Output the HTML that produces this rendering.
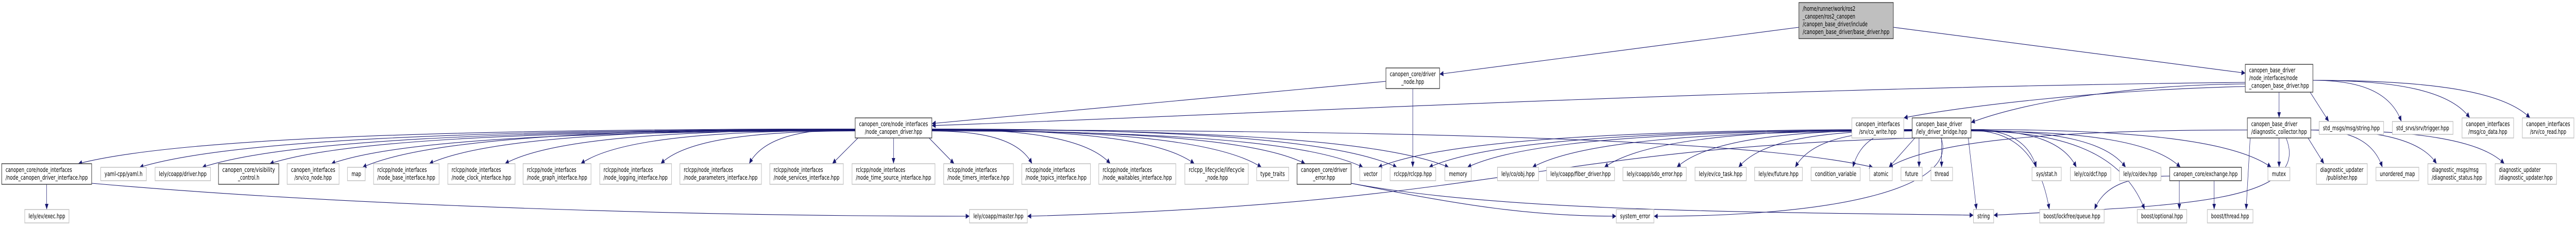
<!DOCTYPE html>
<html><head><meta charset="utf-8">
<style>
html,body{margin:0;padding:0;background:#fff;width:100%;height:100%;overflow:hidden;}
svg{display:block;width:100vw;height:100vh;}
text{font-family:"DejaVu Sans","Liberation Sans",sans-serif;font-size:12.5px;fill:#000;}
.g{fill:#fff;stroke:#c0c0c0;stroke-width:1.5;}
.k{fill:#fff;stroke:#404040;stroke-width:1.5;}
.f{fill:#bfbfbf;stroke:#404040;stroke-width:1.5;}
.e{fill:none;stroke:#191970;stroke-width:1.1;}
</style></head>
<body>
<svg id="s" viewBox="0 0 7392 439" preserveAspectRatio="none" xmlns="http://www.w3.org/2000/svg">
<defs><marker id="ar" markerUnits="userSpaceOnUse" markerWidth="12" markerHeight="10" refX="11" refY="5" orient="auto"><path d="M0,0 L11,5 L0,10 z" fill="#191970"/></marker></defs>
<g id="edges"></g>
<g id="nodes">
<rect class="k" x="5" y="318" width="258" height="40"/><text x="16" y="334">canopen_core/node_interfaces</text><text x="16" y="349" textLength="236" lengthAdjust="spacingAndGlyphs">/node_canopen_driver_interface.hpp</text>
<rect class="g" x="289" y="325" width="131" height="26"/><text x="354.5" y="342" text-anchor="middle" textLength="109" lengthAdjust="spacingAndGlyphs">yaml-cpp/yaml.h</text>
<rect class="g" x="445" y="325" width="159" height="26"/><text x="524.5" y="342" text-anchor="middle" textLength="137" lengthAdjust="spacingAndGlyphs">lely/coapp/driver.hpp</text>
<rect class="k" x="627" y="318" width="173" height="40"/><text x="713.5" y="334" text-anchor="middle" textLength="151" lengthAdjust="spacingAndGlyphs">canopen_core/visibility</text><text x="713.5" y="349" text-anchor="middle">_control.h</text>
<rect class="g" x="824" y="318" width="149" height="40"/><text x="898.5" y="334" text-anchor="middle" textLength="127" lengthAdjust="spacingAndGlyphs">canopen_interfaces</text><text x="898.5" y="349" text-anchor="middle">/srv/co_node.hpp</text>
<rect class="g" x="997" y="325" width="51" height="26"/><text x="1022.5" y="342" text-anchor="middle">map</text>
<rect class="g" x="1072" y="318" width="188" height="40"/><text x="1083" y="334">rclcpp/node_interfaces</text><text x="1083" y="349" textLength="166" lengthAdjust="spacingAndGlyphs">/node_base_interface.hpp</text>
<rect class="g" x="1285" y="318" width="193" height="40"/><text x="1296" y="334">rclcpp/node_interfaces</text><text x="1296" y="349" textLength="171" lengthAdjust="spacingAndGlyphs">/node_clock_interface.hpp</text>
<rect class="g" x="1501" y="318" width="195" height="40"/><text x="1512" y="334">rclcpp/node_interfaces</text><text x="1512" y="349" textLength="173" lengthAdjust="spacingAndGlyphs">/node_graph_interface.hpp</text>
<rect class="g" x="1721" y="318" width="206" height="40"/><text x="1732" y="334">rclcpp/node_interfaces</text><text x="1732" y="349" textLength="184" lengthAdjust="spacingAndGlyphs">/node_logging_interface.hpp</text>
<rect class="g" x="1951" y="318" width="234" height="40"/><text x="1962" y="334">rclcpp/node_interfaces</text><text x="1962" y="349" textLength="212" lengthAdjust="spacingAndGlyphs">/node_parameters_interface.hpp</text>
<rect class="g" x="2209" y="318" width="211" height="40"/><text x="2220" y="334">rclcpp/node_interfaces</text><text x="2220" y="349" textLength="189" lengthAdjust="spacingAndGlyphs">/node_services_interface.hpp</text>
<rect class="g" x="2445" y="318" width="238" height="40"/><text x="2456" y="334">rclcpp/node_interfaces</text><text x="2456" y="349" textLength="216" lengthAdjust="spacingAndGlyphs">/node_time_source_interface.hpp</text>
<rect class="g" x="2708" y="318" width="200" height="40"/><text x="2719" y="334">rclcpp/node_interfaces</text><text x="2719" y="349" textLength="178" lengthAdjust="spacingAndGlyphs">/node_timers_interface.hpp</text>
<rect class="g" x="2932" y="318" width="197" height="40"/><text x="2943" y="334">rclcpp/node_interfaces</text><text x="2943" y="349" textLength="175" lengthAdjust="spacingAndGlyphs">/node_topics_interface.hpp</text>
<rect class="g" x="3153" y="318" width="221" height="40"/><text x="3164" y="334">rclcpp/node_interfaces</text><text x="3164" y="349" textLength="199" lengthAdjust="spacingAndGlyphs">/node_waitables_interface.hpp</text>
<rect class="g" x="3400" y="318" width="182" height="40"/><text x="3491" y="334" text-anchor="middle" textLength="160" lengthAdjust="spacingAndGlyphs">rclcpp_lifecycle/lifecycle</text><text x="3491" y="349" text-anchor="middle">_node.hpp</text>
<rect class="g" x="3606" y="325" width="92" height="26"/><text x="3652" y="342" text-anchor="middle" textLength="70" lengthAdjust="spacingAndGlyphs">type_traits</text>
<rect class="k" x="3722" y="318" width="155" height="40"/><text x="3799.5" y="334" text-anchor="middle" textLength="133" lengthAdjust="spacingAndGlyphs">canopen_core/driver</text><text x="3799.5" y="349" text-anchor="middle">_error.hpp</text>
<rect class="g" x="3902" y="325" width="62" height="26"/><text x="3933" y="342" text-anchor="middle">vector</text>
<rect class="g" x="3989" y="325" width="131" height="26"/><text x="4054.5" y="342" text-anchor="middle" textLength="109" lengthAdjust="spacingAndGlyphs">rclcpp/rclcpp.hpp</text>
<rect class="g" x="4146" y="325" width="76" height="26"/><text x="4184" y="342" text-anchor="middle">memory</text>
<rect class="g" x="4297" y="325" width="118" height="26"/><text x="4356" y="342" text-anchor="middle" textLength="96" lengthAdjust="spacingAndGlyphs">lely/co/obj.hpp</text>
<rect class="g" x="4438" y="325" width="195" height="26"/><text x="4535.5" y="342" text-anchor="middle" textLength="173" lengthAdjust="spacingAndGlyphs">lely/coapp/fiber_driver.hpp</text>
<rect class="g" x="4657" y="325" width="182" height="26"/><text x="4748" y="342" text-anchor="middle" textLength="160" lengthAdjust="spacingAndGlyphs">lely/coapp/sdo_error.hpp</text>
<rect class="g" x="4864" y="325" width="147" height="26"/><text x="4937.5" y="342" text-anchor="middle" textLength="125" lengthAdjust="spacingAndGlyphs">lely/ev/co_task.hpp</text>
<rect class="g" x="5035" y="325" width="137" height="26"/><text x="5103.5" y="342" text-anchor="middle" textLength="115" lengthAdjust="spacingAndGlyphs">lely/ev/future.hpp</text>
<rect class="g" x="5197" y="325" width="141" height="26"/><text x="5267.5" y="342" text-anchor="middle" textLength="119" lengthAdjust="spacingAndGlyphs">condition_variable</text>
<rect class="g" x="5365" y="325" width="65" height="26"/><text x="5397.5" y="342" text-anchor="middle">atomic</text>
<rect class="g" x="5455" y="325" width="61" height="26"/><text x="5485.5" y="342" text-anchor="middle">future</text>
<rect class="g" x="5541" y="325" width="62" height="26"/><text x="5572" y="342" text-anchor="middle">thread</text>
<rect class="g" x="5831" y="325" width="84" height="26"/><text x="5873" y="342" text-anchor="middle">sys/stat.h</text>
<rect class="g" x="5941" y="325" width="116" height="26"/><text x="5999" y="342" text-anchor="middle" textLength="94" lengthAdjust="spacingAndGlyphs">lely/co/dcf.hpp</text>
<rect class="g" x="6082" y="325" width="119" height="26"/><text x="6141.5" y="342" text-anchor="middle" textLength="97" lengthAdjust="spacingAndGlyphs">lely/co/dev.hpp</text>
<rect class="k" x="6226" y="325" width="206" height="26"/><text x="6329" y="342" text-anchor="middle" textLength="184" lengthAdjust="spacingAndGlyphs">canopen_core/exchange.hpp</text>
<rect class="g" x="6508" y="325" width="63" height="26"/><text x="6539.5" y="342" text-anchor="middle">mutex</text>
<rect class="g" x="6647" y="318" width="146" height="40"/><text x="6720" y="334" text-anchor="middle" textLength="124" lengthAdjust="spacingAndGlyphs">diagnostic_updater</text><text x="6720" y="349" text-anchor="middle">/publisher.hpp</text>
<rect class="g" x="6818" y="325" width="123" height="26"/><text x="6879.5" y="342" text-anchor="middle" textLength="101" lengthAdjust="spacingAndGlyphs">unordered_map</text>
<rect class="g" x="6967" y="318" width="167" height="40"/><text x="6978" y="334">diagnostic_msgs/msg</text><text x="6978" y="349" textLength="145" lengthAdjust="spacingAndGlyphs">/diagnostic_status.hpp</text>
<rect class="g" x="7160" y="318" width="176" height="40"/><text x="7171" y="334">diagnostic_updater</text><text x="7171" y="349" textLength="154" lengthAdjust="spacingAndGlyphs">/diagnostic_updater.hpp</text>
<rect class="k" x="2454" y="229" width="220" height="39"/><text x="2564" y="245" text-anchor="middle" textLength="198" lengthAdjust="spacingAndGlyphs">canopen_core/node_interfaces</text><text x="2564" y="260" text-anchor="middle">/node_canopen_driver.hpp</text>
<rect class="g" x="5314" y="229" width="149" height="39"/><text x="5388.5" y="245" text-anchor="middle" textLength="127" lengthAdjust="spacingAndGlyphs">canopen_interfaces</text><text x="5388.5" y="260" text-anchor="middle">/srv/co_write.hpp</text>
<rect class="k" x="5487" y="229" width="169" height="39"/><text x="5498" y="245">canopen_base_driver</text><text x="5498" y="260" textLength="147" lengthAdjust="spacingAndGlyphs">/lely_driver_bridge.hpp</text>
<rect class="k" x="6449" y="229" width="182" height="39"/><text x="6460" y="245">canopen_base_driver</text><text x="6460" y="260" textLength="160" lengthAdjust="spacingAndGlyphs">/diagnostic_collector.hpp</text>
<rect class="g" x="6655" y="236" width="185" height="25"/><text x="6747.5" y="253" text-anchor="middle" textLength="163" lengthAdjust="spacingAndGlyphs">std_msgs/msg/string.hpp</text>
<rect class="g" x="6865" y="236" width="174" height="25"/><text x="6952" y="253" text-anchor="middle" textLength="152" lengthAdjust="spacingAndGlyphs">std_srvs/srv/trigger.hpp</text>
<rect class="g" x="7065" y="229" width="148" height="39"/><text x="7139" y="245" text-anchor="middle" textLength="126" lengthAdjust="spacingAndGlyphs">canopen_interfaces</text><text x="7139" y="260" text-anchor="middle">/msg/co_data.hpp</text>
<rect class="g" x="7238" y="229" width="148" height="39"/><text x="7312" y="245" text-anchor="middle" textLength="126" lengthAdjust="spacingAndGlyphs">canopen_interfaces</text><text x="7312" y="260" text-anchor="middle">/srv/co_read.hpp</text>
<rect class="k" x="6443" y="125" width="194" height="54"/><text x="6454" y="140.5">canopen_base_driver</text><text x="6454" y="155.5">/node_interfaces/node</text><text x="6454" y="170.5" textLength="172" lengthAdjust="spacingAndGlyphs">_canopen_base_driver.hpp</text>
<rect class="k" x="3977" y="132" width="154" height="40"/><text x="4054" y="148" text-anchor="middle" textLength="132" lengthAdjust="spacingAndGlyphs">canopen_core/driver</text><text x="4054" y="163" text-anchor="middle">_node.hpp</text>
<rect class="f" x="5162" y="5" width="271" height="70"/><text x="5173" y="21">/home/runner/work/ros2</text><text x="5173" y="36">_canopen/ros2_canopen</text><text x="5173" y="51">/canopen_base_driver/include</text><text x="5173" y="66" textLength="249" lengthAdjust="spacingAndGlyphs">/canopen_base_driver/base_driver.hpp</text>
<rect class="g" x="71" y="407" width="127" height="26"/><text x="134.5" y="424" text-anchor="middle" textLength="105" lengthAdjust="spacingAndGlyphs">lely/ev/exec.hpp</text>
<rect class="g" x="2782" y="407" width="166" height="26"/><text x="2865" y="424" text-anchor="middle" textLength="144" lengthAdjust="spacingAndGlyphs">lely/coapp/master.hpp</text>
<rect class="g" x="4638" y="407" width="108" height="26"/><text x="4692" y="424" text-anchor="middle" textLength="86" lengthAdjust="spacingAndGlyphs">system_error</text>
<rect class="g" x="5663" y="407" width="58" height="26"/><text x="5692" y="424" text-anchor="middle">string</text>
<rect class="g" x="5853" y="407" width="185" height="26"/><text x="5945.5" y="424" text-anchor="middle" textLength="163" lengthAdjust="spacingAndGlyphs">boost/lockfree/queue.hpp</text>
<rect class="g" x="6133" y="407" width="142" height="26"/><text x="6204" y="424" text-anchor="middle" textLength="120" lengthAdjust="spacingAndGlyphs">boost/optional.hpp</text>
<rect class="g" x="6334" y="407" width="131" height="26"/><text x="6399.5" y="424" text-anchor="middle" textLength="109" lengthAdjust="spacingAndGlyphs">boost/thread.hpp</text>
</g>
</svg>
<script>
(function(){
var N={A:[5,263,318,358],yaml:[289,420,325,351],drv:[445,604,325,351],vis:[627,800,318,358],conode:[824,973,318,358],map:[997,1048,325,351],nb:[1072,1260,318,358],nc:[1285,1478,318,358],ng:[1501,1696,318,358],nl:[1721,1927,318,358],np:[1951,2185,318,358],ns:[2209,2420,318,358],nts:[2445,2683,318,358],nti:[2708,2908,318,358],nto:[2932,3129,318,358],nw:[3153,3374,318,358],lc:[3400,3582,318,358],tt:[3606,3698,325,351],D:[3722,3877,318,358],vec:[3902,3964,325,351],rcl:[3989,4120,325,351],mem:[4146,4222,325,351],obj:[4297,4415,325,351],fib:[4438,4633,325,351],sdo:[4657,4839,325,351],cot:[4864,5011,325,351],evf:[5035,5172,325,351],cv:[5197,5338,325,351],at:[5365,5430,325,351],fu:[5455,5516,325,351],th:[5541,5603,325,351],st:[5831,5915,325,351],dcf:[5941,6057,325,351],dev:[6082,6201,325,351],ex:[6226,6432,325,351],mu:[6508,6571,325,351],pub:[6647,6793,318,358],um:[6818,6941,325,351],ds:[6967,7134,318,358],du:[7160,7336,318,358],B:[2454,2674,229,268],cw:[5314,5463,229,268],F:[5487,5656,229,268],H:[6449,6631,229,268],sm:[6655,6840,236,261],ss:[6865,7039,236,261],cd:[7065,7213,229,268],cr:[7238,7386,229,268],G:[6443,6637,125,179],C:[3977,4131,132,172],E:[5162,5433,5,75],exe:[71,198,407,433],ma:[2782,2948,407,433],se:[4638,4746,407,433],str:[5663,5721,407,433],lq:[5853,6038,407,433],op:[6133,6275,407,433],bt:[6334,6465,407,433]};
var g=document.getElementById('edges'),out='';
function cl(v,a,b){return Math.max(a,Math.min(b,v));}
function P(d){out+='<path class="e" marker-end="url(#ar)" d="'+d+'"/>';}
function e(s,t,off){var S=N[s],T=N[t];off=off||0;var scx=(S[0]+S[1])/2,w=T[1]-T[0];
 var tx=cl(scx,T[0]+0.15*w,T[1]-0.15*w),ty=T[2];var sx,sy;
 if(tx<S[0]-150){sx=S[0];sy=(S[2]+S[3])/2+4+off;}
 else if(tx>S[1]+150){sx=S[1];sy=(S[2]+S[3])/2+4+off;}
 else{sx=cl(tx,S[0]+8,S[1]-8);sy=S[3];P('M'+sx+','+sy+' L'+tx+','+ty);return;}
 var c1x=sx+(tx-sx)*0.55,c1y=sy,c2x=tx+(sx-tx)*0.12,c2y=ty-(ty-sy)*0.7;
 P('M'+sx+','+sy+' C'+c1x+','+c1y+' '+c2x+','+c2y+' '+tx+','+ty);}
['A','yaml','drv','vis','conode','map','nb','nc','ng','nl','np','ns','nts','nti','nto','nw','lc','tt','D','vec','rcl','mem','at'].forEach(function(t,i){e('B',t,(i%5)-2);});
e('A','exe');
P('M263,356 C1000,400 2000,420 2782,420');
P('M3977,158 L2674,240');
e('C','rcl');
P('M5162,53 L4131,144');
P('M5433,53 L6443,142');
P('M6443,160 C5000,170 3500,225 2674,244');
P('M6443,163 C6100,165 5800,200 5656,238');
P('M6443,168 C6000,175 5600,210 5463,229');
['H','sm','ss','cd','cr'].forEach(function(t){e('G',t);});
['vec','rcl','mem','obj','fib','sdo','cot','evf','cv','at','fu','th','st','dcf','dev','ex','mu','str','lq','op'].forEach(function(t,i){e('F',t,(i%4)-1);});
P('M5500,268 C4400,290 4300,395 2948,420');
P('M5570,268 C5620,360 5300,420 4746,420');
P('M3877,356 C4200,400 4400,420 4638,420');
P('M3877,356 C4300,410 5000,412 5663,418');
['mu','bt','pub','um','ds','du','at'].forEach(function(t){e('H',t);});
P('M6560,268 C6640,400 6200,400 5721,418');
['lq','op','bt'].forEach(function(t){e('ex',t);});
g.innerHTML=out;
})();
</script>
</body></html>
